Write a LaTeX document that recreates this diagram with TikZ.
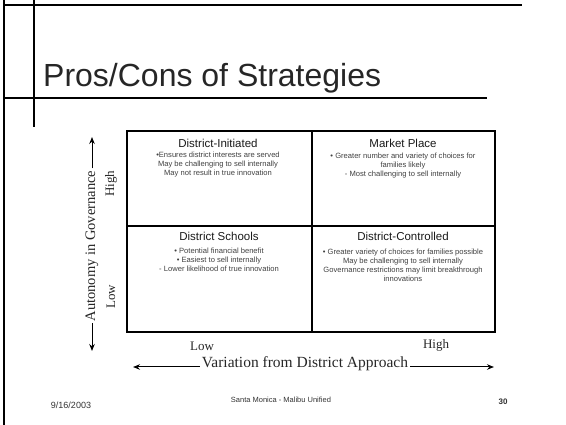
\documentclass[tikz,border=0pt]{standalone}
\usepackage{fontspec}
\setmainfont{Liberation Serif}
\newfontfamily\arialf{Liberation Sans}
\usetikzlibrary{arrows.meta}
\tikzset{
  rule/.style={line width=1.2pt, black},
  quadtitle/.style={font=\arialf\fontsize{11.5}{13}\selectfont, inner sep=0pt, anchor=center, text=black!90},
  quadbody/.style={font=\arialf\fontsize{7.6}{9}\selectfont, inner sep=0pt, anchor=north, align=center, text=black!75},
  axislab/.style={font=\fontsize{15}{17}\selectfont, inner sep=2pt, text=black!85},
  endlab/.style={font=\fontsize{13}{15}\selectfont, inner sep=0pt, text=black!85},
  axisarrow/.style={line width=1pt, -{Stealth[length=7pt,width=5.5pt]}},
  foot/.style={font=\arialf\fontsize{7.5}{9}\selectfont, inner sep=0pt, text=black!80}
}
\begin{document}
\begin{tikzpicture}[x=1pt,y=-1pt]
\useasboundingbox (0,0) rectangle (566,425);
% slide frame lines
\draw[rule] (4,0) -- (4,425);
\draw[rule] (4,5) -- (522,5);
\draw[rule] (34,0) -- (34,127);
\draw[rule] (4,98) -- (487,98);
% title
\node[font=\arialf\fontsize{32}{36}\selectfont, inner sep=0pt, anchor=base west, text=black!85] (title) at (43,87) {Pros/Cons of Strategies};
% matrix
\draw[rule] (127,131) rectangle (495,332);
\draw[rule] (312,131) -- (312,332);
\draw[rule] (127,226) -- (495,226);
% quadrants
\node[quadtitle] (t1) at (218,143) {District-Initiated};
\node[quadbody] (b1) at (218,151.5) {•Ensures district interests are served\\May be challenging to sell internally\\May not result in true innovation};
\node[quadtitle] (t2) at (403,143) {Market Place};
\node[quadbody] (b2) at (403,152.5) {• Greater number and variety of choices for\\families likely\\- Most challenging to sell internally};
\node[quadtitle] (t3) at (219,236) {District Schools};
\node[quadbody] (b3) at (219,247.5) {• Potential financial benefit\\• Easiest to sell internally\\- Lower likelihood of true innovation};
\node[quadtitle] (t4) at (403,236) {District-Controlled};
\node[quadbody] (b4) at (403,248.5) {• Greater variety of choices for families possible\\May be challenging to sell internally\\Governance restrictions may limit breakthrough\\innovations};
% y axis
\coordinate (ytop) at (92,137);
\coordinate (ybot) at (92,351);
\node[axislab, rotate=90, font=\fontsize{14.5}{17}\selectfont] (ylab) at (92,246) {Autonomy in Governance};
\draw[axisarrow] (ylab.east) -- (ytop);
\draw[axisarrow] (ylab.west) -- (ybot);
\node[endlab, rotate=90] (yhigh) at (111,184) {High};
\node[endlab, rotate=90] (ylow) at (111,297) {Low};
% x axis
\coordinate (xleft) at (133,367);
\coordinate (xright) at (494,367);
\node[axislab, anchor=center, font=\fontsize{15.5}{17}\selectfont] (xlab) at (305,364) {Variation from District Approach};
\draw[axisarrow] (xlab.west |- xleft) -- (xleft);
\draw[axisarrow] (xlab.east |- xright) -- (xright);
\node[endlab] (xlow) at (202,346) {Low};
\node[endlab] (xhigh) at (436,345) {High};
% footer
\node[foot, font=\arialf\fontsize{9}{10}\selectfont] (date) at (71,405) {9/16/2003};
\node[foot] (org) at (281,400) {Santa Monica - Malibu Unified};
\node[foot, font=\arialf\bfseries\fontsize{8}{9}\selectfont] (page) at (503,402) {30};
\end{tikzpicture}
\end{document}
